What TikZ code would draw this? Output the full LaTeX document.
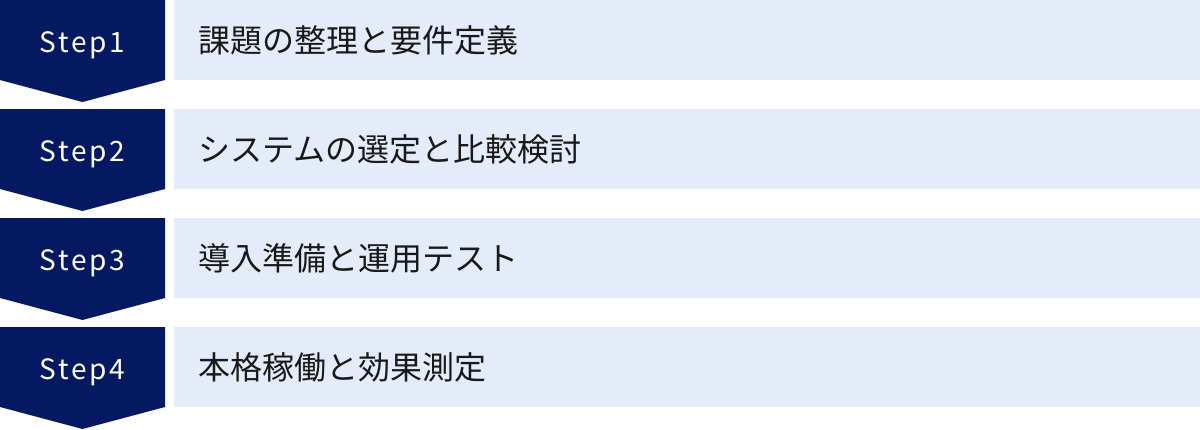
\documentclass[tikz,border=0pt]{standalone}
\usepackage{fontspec}
\setmainfont{Noto Sans CJK JP}
\newfontfamily\stepfont[LetterSpace=10]{Noto Sans CJK JP}
\usepackage{xcolor}
\usepackage{tikz}
\definecolor{stepnavy}{HTML}{051862}
\definecolor{rowblue}{HTML}{E5ECF9}

\begin{document}
\begin{tikzpicture}[x=1pt, y=1pt,
    chevron/.style={fill=stepnavy},
    rowbox/.style={fill=rowblue},
    steplabel/.style={text=white, font=\stepfont\fontsize{28}{34}\selectfont, anchor=base, inner sep=0pt},
    tasklabel/.style={text=black!90, font=\fontsize{32}{38}\selectfont, anchor=base west, inner sep=0pt}]
  \useasboundingbox (0,0) rectangle (1200,-429);
  % row 1
  \fill[chevron] (0,0) -- (165,0) -- (165,-80) -- (82.5,-102) -- (0,-80) -- cycle;
  \fill[rowbox] (174,0) rectangle (1200,-80);
  \node[steplabel] (s1) at (82.5,-52) {Step1};
  \node[tasklabel] (t1) at (198,-52) {課題の整理と要件定義};
  % row 2
  \fill[chevron] (0,-109) -- (165,-109) -- (165,-189) -- (82.5,-211) -- (0,-189) -- cycle;
  \fill[rowbox] (174,-109) rectangle (1200,-189);
  \node[steplabel] (s2) at (82.5,-161) {Step2};
  \node[tasklabel] (t2) at (198,-161) {システムの選定と比較検討};
  % row 3
  \fill[chevron] (0,-218) -- (165,-218) -- (165,-298) -- (82.5,-320) -- (0,-298) -- cycle;
  \fill[rowbox] (174,-218) rectangle (1200,-298);
  \node[steplabel] (s3) at (82.5,-270) {Step3};
  \node[tasklabel] (t3) at (198,-270) {導入準備と運用テスト};
  % row 4
  \fill[chevron] (0,-327) -- (165,-327) -- (165,-407) -- (82.5,-429) -- (0,-407) -- cycle;
  \fill[rowbox] (174,-327) rectangle (1200,-407);
  \node[steplabel] (s4) at (82.5,-379) {Step4};
  \node[tasklabel] (t4) at (198,-379) {本格稼働と効果測定};
\end{tikzpicture}
\end{document}
